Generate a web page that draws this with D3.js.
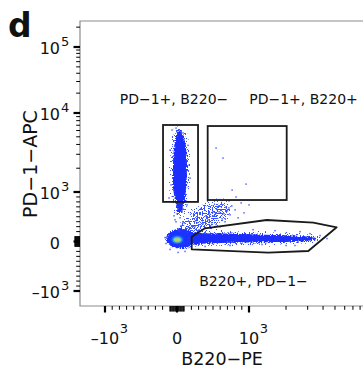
<!DOCTYPE html>
<html>
<head>
<meta charset="utf-8">
<script src="https://cdn.jsdelivr.net/npm/d3@7"></script>
<style>
  body { margin: 0; background: #fff; }
  svg { display: block; }
  text { font-family: "DejaVu Sans", sans-serif; fill: #111; }
</style>
</head>
<body>
<svg id="chart" width="363" height="374"></svg>
<script>
// Values (B220-PE on x, PD-1-APC on y).
// Gates.
var gateLeft = { b220: [-194, 292], pd1: [800, 7050] };
var gateRight = { b220: [426, 2025], pd1: [838, 6840] };
var gateBottom = [[204, 97], [389, 267], [1393, 434], [3333, 380], [5164, 287],
                  [3034, -192], [1435, -226], [204, -158]];

// Population outlines: [PD-1, B220 low, B220 high].
var pd1Population = [[6000, 14, 42], [5000, -14, 97], [3900, -42, 125], [2500, -56, 139],
                     [1650, -56, 139], [1060, -56, 125], [840, -28, 111], [700, 0, 83], [580, 14, 56]];
// Population outlines: [B220, PD-1 low, PD-1 high].
var b220Population = [[150, -80, 200], [320, -40, 170], [600, -30, 160], [1050, -20, 150],
                      [1800, -10, 130], [2700, 0, 110], [3200, 20, 90], [3500, 50, 70]];
// Fan of events from the origin towards the upper right: [B220, PD-1].
var diagonalSpray = [[42, 111], [97, 313], [208, 535], [389, 697], [626, 778], [681, 596],
                     [528, 394], [361, 212], [208, 111]];
// Density core at the origin: [B220, PD-1, B220 radius, PD-1 radius].
var originCore = [[50, 60, 200, 200], [5, 35, 72, 66], [5, 35, 52, 48], [5, 35, 34, 32], [5, 35, 17, 17]];
var coreColours = ["#1a30ff", "#00c8ff", "#3cff60", "#ffe800", "#ff2a00"];
// Sparse single events: [B220, PD-1].
var sparseEvents = [
  [542, 3600], [639, 2690], [959, 1260], [765, 1060], [820, 900], [1000, 740], [723, 820], [890, 780],
  [681, 700], [806, 640], [584, 600], [931, 580], [514, 520], [737, 540], [626, 460], [431, 440],
  [848, 480], [361, 360], [542, 340], [459, 280], [306, 240], [667, 400],
  [0, 560], [42, 480], [-14, 400], [56, 320], [14, 260], [-28, 440], [83, 380], [28, 220], [-42, 520], [70, 600],
  [-97, 3400], [167, 2200], [-83, 1230], [153, 3900], [-14, 6450], [83, 5600], [-111, 880], [139, 740],
  [181, 1500], [-70, 6100],
  [2600, 200], [3780, 120], [2000, -80], [1275, -60], [737, -80], [3130, 160], [4300, 60], [1627, 220],
  [2364, -80], [1078, 240], [389, -100],
  [-167, 80], [-153, -40], [-97, -160], [111, -200], [14, -220],
  [250, 300], [400, 520], [550, 650], [700, 620], [480, 380], [350, 420], [600, 300], [280, 380],
  [760, 720], [650, 560], [720, 680], [580, 720], [500, 600], [380, 300], [260, 420], [450, 560]
];

// Axis ticks and labels.
var xMajorTicks = [-1000, 0, 1000];
var xTickLabels = [["\u201310", "3"], ["0", ""], ["10", "3"]];
var yMajorTicks = [-1000, 0, 1000, 10000, 100000];
var yTickLabels = [["\u201310", "3"], ["0", ""], ["10", "3"], ["10", "4"], ["10", "5"]];
var gateLabels = ["PD\u22121+, B220\u2212", "PD\u22121+, B220+", "B220+, PD\u22121\u2212"];

var plotLeft = 80, plotTop = 21, plotBottom = 306, plotRight = 363;

// Biexponential display: linear around zero, logarithmic above 10^3.
var xLin = d3.scaleLinear().domain([-1000, 1000]).range([105, 249]);
var xLog = d3.scaleLog().domain([1000, 10000]).range([249, 372]);
var x = function (v) { return v > 1000 ? xLog(v) : xLin(v); };
var yLin = d3.scaleLinear().domain([-1000, 1000]).range([291, 192]);
var yLog = d3.scaleLog().domain([1000, 10000, 100000]).range([192, 113, 47]);
var y = function (v) { return v > 1000 ? yLog(v) : yLin(v); };

var svg = d3.select("#chart");
var defs = svg.append("defs");
defs.append("clipPath").attr("id", "plot-clip")
    .append("rect")
    .attr("x", plotLeft).attr("y", plotTop)
    .attr("width", plotRight - plotLeft).attr("height", plotBottom - plotTop);

// Grainy edges for the dense populations.
var grain = defs.append("filter").attr("id", "grain")
    .attr("x", "-30%").attr("y", "-30%").attr("width", "160%").attr("height", "160%");
grain.append("feTurbulence").attr("type", "fractalNoise").attr("baseFrequency", 0.8)
    .attr("numOctaves", 2).attr("seed", 4).attr("result", "noise");
grain.append("feDisplacementMap").attr("in", "SourceGraphic").attr("in2", "noise")
    .attr("scale", 5).attr("xChannelSelector", "R").attr("yChannelSelector", "G");

// Dotted texture: keep the shape only where the noise is high.
function speckleFilter(id, seed, zeros, ones) {
    var table = d3.range(zeros).map(function () { return 0; })
        .concat(d3.range(ones).map(function () { return 1; })).join(" ");
    var f = defs.append("filter").attr("id", id)
        .attr("x", "-40%").attr("y", "-40%").attr("width", "180%").attr("height", "180%");
    f.append("feTurbulence").attr("type", "fractalNoise").attr("baseFrequency", 0.75)
        .attr("numOctaves", 1).attr("seed", seed).attr("result", "noise");
    f.append("feDisplacementMap").attr("in", "SourceGraphic").attr("in2", "noise")
        .attr("scale", 8).attr("xChannelSelector", "R").attr("yChannelSelector", "G")
        .attr("result", "rough");
    f.append("feComponentTransfer").attr("in", "noise").attr("result", "mask")
        .append("feFuncA").attr("type", "discrete").attr("tableValues", table);
    f.append("feComposite").attr("in", "rough").attr("in2", "mask").attr("operator", "in");
}
speckleFilter("speckle-sparse", 11, 12, 8);
speckleFilter("speckle-dense", 5, 11, 9);

var soft = defs.append("filter").attr("id", "soft");
soft.append("feGaussianBlur").attr("stdDeviation", 0.8);

// Panel letter.
svg.append("text").attr("x", 8).attr("y", 37)
    .attr("font-size", 33).attr("font-weight", "bold")
    .text("d");

// Events.
var events = svg.append("g").attr("clip-path", "url(#plot-clip)");

var verticalArea = d3.area()
    .y(function (d) { return y(d[0]); })
    .x0(function (d) { return x(d[1]); })
    .x1(function (d) { return x(d[2]); })
    .curve(d3.curveBasis);
var horizontalArea = d3.area()
    .x(function (d) { return x(d[0]); })
    .y0(function (d) { return y(d[1]); })
    .y1(function (d) { return y(d[2]); })
    .curve(d3.curveBasis);
var sprayLine = d3.line()
    .x(function (d) { return x(d[0]); })
    .y(function (d) { return y(d[1]); })
    .curve(d3.curveCardinalClosed);

// Speckled fringe round each population.
var fringe = events.append("g").attr("filter", "url(#speckle-sparse)");
fringe.append("path").attr("d", verticalArea(pd1Population))
    .attr("fill", "#3a55ff").attr("stroke", "#3a55ff").attr("stroke-width", 6);
fringe.append("path").attr("d", horizontalArea(b220Population))
    .attr("fill", "#3a55ff").attr("stroke", "#3a55ff").attr("stroke-width", 5);
fringe.append("path").attr("d", sprayLine(diagonalSpray))
    .attr("fill", "#3a55ff").attr("stroke", "#3a55ff").attr("stroke-width", 8);

events.append("path").attr("d", sprayLine(diagonalSpray))
    .attr("filter", "url(#speckle-dense)")
    .attr("fill", "#2a45ff").attr("opacity", 0.9);

var denseLayer = events.append("g").attr("filter", "url(#grain)");
denseLayer.append("path").attr("d", verticalArea(pd1Population)).attr("fill", "#1a2eff");
denseLayer.append("path").attr("d", horizontalArea(b220Population)).attr("fill", "#1a2eff");
denseLayer.append("ellipse")
    .attr("cx", x(originCore[0][0])).attr("cy", y(originCore[0][1]))
    .attr("rx", x(originCore[0][0] + originCore[0][2]) - x(originCore[0][0]))
    .attr("ry", y(originCore[0][1]) - y(originCore[0][1] + originCore[0][3]))
    .attr("fill", coreColours[0]);

events.append("g").attr("filter", "url(#soft)")
    .selectAll("ellipse")
    .data(originCore.slice(1))
    .enter()
    .append("ellipse")
    .attr("cx", function (d) { return x(d[0]); })
    .attr("cy", function (d) { return y(d[1]); })
    .attr("rx", function (d) { return x(d[0] + d[2]) - x(d[0]); })
    .attr("ry", function (d) { return y(d[1]) - y(d[1] + d[3]); })
    .attr("fill", function (d, i) { return coreColours[i + 1]; });

events.selectAll("rect.event")
    .data(sparseEvents)
    .enter()
    .append("rect")
    .attr("class", "event")
    .attr("x", function (d) { return x(d[0]) - 0.7; })
    .attr("y", function (d) { return y(d[1]) - 0.7; })
    .attr("width", 1.5)
    .attr("height", 1.5)
    .attr("fill", "#3550ff")
    .attr("opacity", 0.85);

// Gates.
var gates = svg.append("g")
    .attr("fill", "none").attr("stroke", "#1a1a1a").attr("stroke-width", 1.8);
[gateLeft, gateRight].forEach(function (g) {
    gates.append("rect")
        .attr("x", x(g.b220[0]))
        .attr("y", y(g.pd1[1]))
        .attr("width", x(g.b220[1]) - x(g.b220[0]))
        .attr("height", y(g.pd1[0]) - y(g.pd1[1]));
});
gates.append("path")
    .attr("d", d3.line()
        .x(function (d) { return x(d[0]); })
        .y(function (d) { return y(d[1]); })(gateBottom) + "Z")
    .attr("stroke-linejoin", "round");

// Gate labels.
svg.append("text").attr("x", 174).attr("y", 104).attr("text-anchor", "middle")
    .attr("font-size", 14).text(gateLabels[0]);
svg.append("text").attr("x", 303.5).attr("y", 104).attr("text-anchor", "middle")
    .attr("font-size", 14).text(gateLabels[1]);
svg.append("text").attr("x", 253.5).attr("y", 286).attr("text-anchor", "middle")
    .attr("font-size", 14).text(gateLabels[2]);

// Frame and axis lines.
var frame = svg.append("g").attr("stroke", "#8c8c8c").attr("stroke-width", 1.2).attr("fill", "none");
frame.append("path").attr("d", "M" + plotRight + "," + plotTop + "H" + plotLeft + "V" + plotBottom + "H" + plotRight);

// Tick sets.
function minorTicks(maxLog) {
    var t = [];
    d3.range(10, 100, 10).forEach(function (v) { t.push({ v: v, k: "c" }, { v: -v, k: "c" }); });
    t.push({ v: 100, k: "c" }, { v: -100, k: "c" });
    d3.range(200, 1000, 100).forEach(function (v) { t.push({ v: v, k: "m" }, { v: -v, k: "m" }); });
    for (var e = 3; e <= maxLog; e++) {
        d3.range(2, 10).forEach(function (m) { t.push({ v: m * Math.pow(10, e), k: "m" }); });
    }
    return t;
}
var tickLen = { M: 6.5, c: 5.5, m: 3.8 };
var tickWidth = { M: 2.2, c: 0.9, m: 1 };

var xTicks = minorTicks(3).concat(xMajorTicks.map(function (v) { return { v: v, k: "M" }; }))
    .filter(function (d) { return x(d.v) > plotLeft && x(d.v) < plotRight; });
svg.append("g").selectAll("line")
    .data(xTicks)
    .enter()
    .append("line")
    .attr("x1", function (d) { return x(d.v); })
    .attr("x2", function (d) { return x(d.v); })
    .attr("y1", plotBottom)
    .attr("y2", function (d) { return plotBottom + tickLen[d.k]; })
    .attr("stroke", "#000")
    .attr("stroke-width", function (d) { return tickWidth[d.k]; });

var yTicks = minorTicks(5).concat(yMajorTicks.map(function (v) { return { v: v, k: "M" }; }))
    .filter(function (d) { return y(d.v) > plotTop && y(d.v) < plotBottom; });
svg.append("g").selectAll("line")
    .data(yTicks)
    .enter()
    .append("line")
    .attr("y1", function (d) { return y(d.v); })
    .attr("y2", function (d) { return y(d.v); })
    .attr("x1", plotLeft)
    .attr("x2", function (d) { return plotLeft - tickLen[d.k]; })
    .attr("stroke", "#000")
    .attr("stroke-width", function (d) { return tickWidth[d.k]; });

// Tick labels with superscript exponents.
var labelGroup = svg.append("g");
xMajorTicks.forEach(function (v, i) {
    var base = labelGroup.append("text")
        .attr("x", x(v)).attr("y", 344)
        .attr("text-anchor", "middle").attr("font-size", 16)
        .text(xTickLabels[i][0]);
    if (xTickLabels[i][1]) {
        var w = base.node().getComputedTextLength();
        labelGroup.append("text")
            .attr("x", x(v) + w / 2 + 0.5).attr("y", 333)
            .attr("font-size", 13)
            .text(xTickLabels[i][1]);
    }
});
yMajorTicks.forEach(function (v, i) {
    labelGroup.append("text")
        .attr("x", 60).attr("y", y(v) + 7)
        .attr("text-anchor", "end").attr("font-size", 16)
        .text(yTickLabels[i][0]);
    if (yTickLabels[i][1]) {
        labelGroup.append("text")
            .attr("x", 61).attr("y", y(v) - 1)
            .attr("font-size", 13)
            .text(yTickLabels[i][1]);
    }
});

// Axis titles.
svg.append("text").attr("x", 222).attr("y", 365).attr("text-anchor", "middle")
    .attr("font-size", 17.5).text("B220\u2212PE");
svg.append("text")
    .attr("transform", "translate(37,164) rotate(-90)")
    .attr("text-anchor", "middle").attr("font-size", 19)
    .text("PD\u22121\u2212APC");
</script>
</body>
</html>
